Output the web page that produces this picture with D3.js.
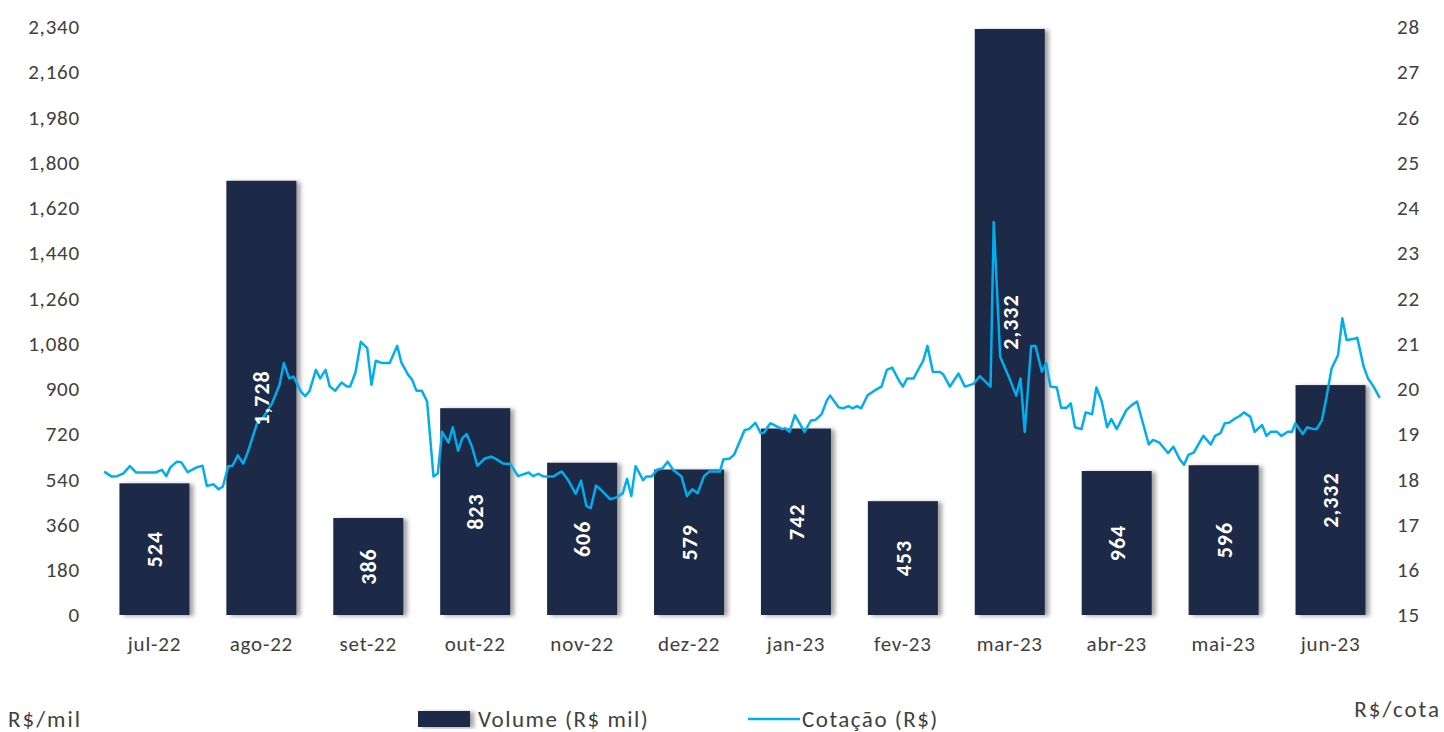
<!DOCTYPE html>
<html>
<head>
<meta charset="utf-8">
<script src="https://cdn.jsdelivr.net/npm/d3@7"></script>
<style>
  body { margin: 0; background: #fff; }
  svg { display: block; font-family: Carlito, "Open Sans", "Noto Sans", sans-serif; }
</style>
</head>
<body>
<svg id="chart"></svg>
<script>
// meses do período
const meses = ["jul-22", "ago-22", "set-22", "out-22", "nov-22", "dez-22",
  "jan-23", "fev-23", "mar-23", "abr-23", "mai-23", "jun-23"];

// volume negociado (R$ mil) - altura das barras
const volume = [524, 1728, 386, 823, 606, 579, 742, 453, 2332, 573, 596, 915];

// rótulos escritos dentro das barras
const rotulos = ["524", "1,728", "386", "823", "606", "579", "742", "453", "2,332", "964", "596", "2,332"];

// cotação diária: tempo em meses desde o início de jul-22
const tempo = [0.03, 0.10, 0.15, 0.21, 0.27, 0.33, 0.51, 0.57, 0.61, 0.65, 0.71, 0.75, 0.81, 0.90, 0.95, 0.99,
  1.05, 1.10, 1.14, 1.19, 1.23, 1.28, 1.33, 1.37, 1.46, 1.52, 1.60, 1.67, 1.71, 1.76, 1.80, 1.87, 1.91, 1.95,
  2.01, 2.05, 2.10, 2.14, 2.19, 2.25, 2.30, 2.33, 2.38, 2.43, 2.49, 2.53, 2.57, 2.63, 2.70, 2.77, 2.81, 2.87, 2.91, 2.95,
  3.00, 3.05, 3.11, 3.15, 3.19, 3.25, 3.29, 3.34, 3.38, 3.42, 3.47, 3.52, 3.59, 3.65, 3.70, 3.76, 3.83, 3.90,
  4.00, 4.04, 4.09, 4.14, 4.23, 4.29, 4.31, 4.37, 4.44, 4.49, 4.54, 4.58, 4.63, 4.68, 4.76, 4.82, 4.88, 4.92, 4.96,
  5.00, 5.07, 5.10, 5.15, 5.20, 5.25, 5.30, 5.35, 5.43, 5.48, 5.53, 5.58, 5.64, 5.69, 5.79, 5.82, 5.88, 5.92,
  6.02, 6.06, 6.12, 6.17, 6.20, 6.26, 6.37, 6.40, 6.44, 6.49, 6.58, 6.64, 6.68, 6.74, 6.79, 6.82, 6.90, 6.94, 6.99,
  7.03, 7.07, 7.11, 7.17, 7.24, 7.30, 7.35, 7.40, 7.46, 7.50, 7.54, 7.60, 7.65, 7.69, 7.73, 7.78, 7.85, 7.88, 7.94,
  8.02, 8.08, 8.16, 8.22, 8.32, 8.35, 8.41, 8.49, 8.56, 8.60, 8.64, 8.70, 8.74, 8.80, 8.84, 8.88, 8.94, 8.98,
  9.03, 9.07, 9.11, 9.17, 9.21, 9.27, 9.31, 9.36, 9.41, 9.45, 9.50, 9.59, 9.64, 9.69, 9.80, 9.84, 9.90, 9.98,
  10.03, 10.09, 10.13, 10.17, 10.22, 10.31, 10.38, 10.42, 10.47, 10.51, 10.55, 10.61, 10.65, 10.69, 10.75, 10.79,
  10.86, 10.90, 10.94, 11.00, 11.04, 11.10, 11.14, 11.17, 11.24, 11.28, 11.34, 11.37, 11.42, 11.46, 11.51, 11.57,
  11.61, 11.65, 11.71, 11.75, 11.81, 11.85, 11.90, 11.96];

const cotacao = [18.17, 18.06, 18.07, 18.13, 18.29, 18.15, 18.15, 18.21, 18.07, 18.27, 18.39, 18.38, 18.16, 18.27, 18.30, 17.85,
  17.89, 17.78, 17.84, 18.29, 18.30, 18.53, 18.35, 18.58, 19.24, 19.38, 19.68, 20.09, 20.57, 20.23, 20.27, 19.94, 19.84, 19.95,
  20.42, 20.23, 20.42, 20.05, 19.96, 20.14, 20.05, 20.05, 20.36, 21.04, 20.90, 20.09, 20.62, 20.57, 20.57, 20.95, 20.58, 20.32, 20.20, 19.96,
  19.96, 19.72, 18.06, 18.13, 19.05, 18.81, 19.15, 18.63, 18.91, 19.00, 18.72, 18.30, 18.46, 18.50, 18.44, 18.35, 18.34, 18.07,
  18.15, 18.07, 18.12, 18.06, 18.06, 18.15, 18.17, 17.98, 17.68, 17.97, 17.41, 17.36, 17.86, 17.76, 17.56, 17.60, 17.69, 18.01, 17.63,
  18.29, 17.98, 18.06, 18.06, 18.21, 18.24, 18.39, 18.21, 18.06, 17.63, 17.78, 17.69, 18.07, 18.17, 18.17, 18.44, 18.46, 18.54,
  19.09, 19.11, 19.25, 19.02, 19.03, 19.24, 19.11, 19.13, 19.05, 19.42, 19.05, 19.30, 19.31, 19.44, 19.75, 19.85, 19.59, 19.57, 19.62,
  19.57, 19.62, 19.57, 19.86, 19.97, 20.05, 20.42, 20.47, 20.20, 20.05, 20.23, 20.23, 20.45, 20.62, 20.95, 20.38, 20.37, 20.31, 20.05,
  20.34, 20.05, 20.11, 20.28, 20.05, 23.69, 20.71, 20.27, 19.85, 20.23, 19.05, 20.95, 20.95, 20.38, 20.57, 20.05, 20.03, 19.58,
  19.58, 19.68, 19.15, 19.11, 19.48, 19.44, 20.03, 19.72, 19.15, 19.33, 19.11, 19.53, 19.64, 19.72, 18.77, 18.87, 18.81, 18.58,
  18.72, 18.44, 18.32, 18.54, 18.59, 18.96, 18.77, 18.96, 19.02, 19.24, 19.25, 19.35, 19.40, 19.48, 19.38, 19.05,
  19.20, 18.96, 19.05, 19.05, 18.96, 19.05, 19.05, 19.24, 19.00, 19.15, 19.11, 19.11, 19.31, 19.79, 20.45, 20.75,
  21.56, 21.08, 21.10, 21.13, 20.49, 20.23, 20.06, 19.80];

const ticksVolume = d3.range(0, 2341, 180);
const ticksCotacao = d3.range(15, 29, 1);

const W = 1444, H = 732;
const margin = { top: 27, right: 60, bottom: 117, left: 101 };
const plotW = W - margin.left - margin.right;
const plotH = H - margin.top - margin.bottom;
const corTexto = "#404040";

const svg = d3.select("#chart").attr("width", W).attr("height", H);

const defs = svg.append("defs");
const sombra = defs.append("filter").attr("id", "sombra")
  .attr("x", "-10%").attr("y", "-10%").attr("width", "130%").attr("height", "120%");
sombra.append("feDropShadow")
  .attr("dx", 4).attr("dy", 1).attr("stdDeviation", 2)
  .attr("flood-color", "#555").attr("flood-opacity", 0.55);

const g = svg.append("g").attr("transform", `translate(${margin.left},${margin.top})`);

const x = d3.scaleBand().domain(meses).range([0, plotW]).paddingInner(0.345).paddingOuter(0.1725);
const xTempo = d3.scaleLinear().domain([0, 12]).range([0, plotW]);
const yVol = d3.scaleLinear().domain([0, 2340]).range([plotH, 0]);
const yCot = d3.scaleLinear().domain([15, 28]).range([plotH, 0]);

// barras
g.selectAll(".barra")
  .data(meses)
  .enter()
  .append("rect")
  .attr("class", "barra")
  .attr("x", d => x(d))
  .attr("y", (d, i) => yVol(volume[i]))
  .attr("width", x.bandwidth())
  .attr("height", (d, i) => plotH - yVol(volume[i]))
  .attr("fill", "#1a2b47")
  .attr("filter", "url(#sombra)");

// linha da cotação
const pontos = tempo.map((t, i) => [t, cotacao[i]]);
const linha = d3.line()
  .x(d => xTempo(d[0]))
  .y(d => yCot(d[1]));

g.append("path")
  .datum(pontos)
  .attr("fill", "none")
  .attr("stroke", "#00aeef")
  .attr("stroke-width", 2.5)
  .attr("stroke-linejoin", "round")
  .attr("d", linha);

// rótulos das barras
g.selectAll(".rotulo")
  .data(meses)
  .enter()
  .append("text")
  .attr("class", "rotulo")
  .attr("transform", (d, i) => `translate(${x(d) + x.bandwidth() / 2},${yVol(volume[i] / 2)}) rotate(-90)`)
  .attr("text-anchor", "middle")
  .attr("dy", "0.36em")
  .attr("fill", "#fff")
  .attr("font-weight", "bold")
  .attr("font-size", 22)
  .attr("letter-spacing", 1)
  .text((d, i) => rotulos[i]);

// eixos
const eixoX = g.append("g")
  .attr("transform", `translate(0,${plotH})`)
  .call(d3.axisBottom(x).tickSize(0).tickPadding(21));

const eixoE = g.append("g")
  .call(d3.axisLeft(yVol).tickValues(ticksVolume).tickSize(0).tickPadding(21).tickFormat(d3.format(",")));

const eixoD = g.append("g")
  .attr("transform", `translate(${plotW},0)`)
  .call(d3.axisRight(yCot).tickValues(ticksCotacao).tickSize(0).tickPadding(13));

[eixoX, eixoE, eixoD].forEach(e => {
  e.select(".domain").remove();
  e.selectAll("text").attr("font-size", 21).attr("letter-spacing", 0.8).attr("fill", corTexto)
    .attr("font-family", 'Carlito, "Open Sans", "Noto Sans", sans-serif');
});

// títulos dos eixos
svg.append("text")
  .attr("x", 8).attr("y", 727)
  .attr("font-size", 23).attr("letter-spacing", 2).attr("fill", corTexto)
  .text("R$/mil");

svg.append("text")
  .attr("x", 1441).attr("y", 717)
  .attr("text-anchor", "end")
  .attr("font-size", 23).attr("letter-spacing", 2).attr("fill", corTexto)
  .text("R$/cota");

// legenda
const leg = svg.append("g").attr("transform", "translate(418,719)");
leg.append("rect")
  .attr("x", 0).attr("y", -8).attr("width", 52).attr("height", 16)
  .attr("fill", "#1a2b47").attr("filter", "url(#sombra)");
leg.append("text")
  .attr("x", 60).attr("y", 0).attr("dy", "0.36em")
  .attr("font-size", 23).attr("letter-spacing", 1.5).attr("fill", corTexto)
  .text("Volume (R$ mil)");

leg.append("line")
  .attr("x1", 330).attr("x2", 382).attr("y1", 0).attr("y2", 0)
  .attr("stroke", "#00aeef").attr("stroke-width", 2.5);
leg.append("text")
  .attr("x", 384).attr("y", 0).attr("dy", "0.36em")
  .attr("font-size", 23).attr("letter-spacing", 1.5).attr("fill", corTexto)
  .text("Cotação (R$)");
</script>
</body>
</html>
